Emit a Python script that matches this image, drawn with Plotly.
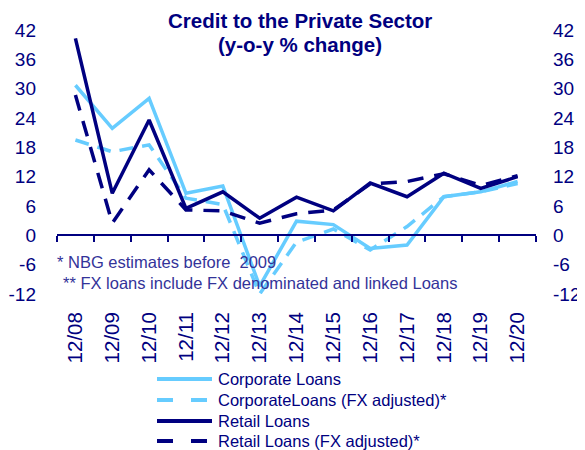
import plotly.graph_objects as go

# ---------------- data ----------------
categories = ["12/08", "12/09", "12/10", "12/11", "12/12", "12/13", "12/14",
              "12/15", "12/16", "12/17", "12/18", "12/19", "12/20"]
corporate = [30.7, 21.9, 28.0, 8.6, 10.1, -10.4, 2.9, 2.2, -2.7, -2.0, 7.9, 8.9, 11.0]
corporate_fx = [19.5, 17.1, 18.5, 7.6, 6.3, -12.0, -1.4, 1.3, -3.0, 1.8, 7.9, 8.9, 10.6]
retail = [40.3, 8.6, 23.6, 5.5, 8.9, 3.5, 7.8, 5.0, 10.7, 7.9, 12.7, 9.6, 12.0]
retail_fx = [28.7, 2.5, 13.4, 5.2, 5.0, 2.5, 4.4, 5.2, 10.5, 11.0, 12.6, 10.2, 12.2]
y_ticks = [-12, -6, 0, 6, 12, 18, 24, 30, 36, 42]
y_tick_labels = ["-12", "-6", "0", "6", "12", "18", "24", "30", "36", "42"]
series_names = ["Corporate Loans", "CorporateLoans (FX adjusted)*",
                "Retail Loans", "Retail Loans (FX adjusted)*"]
notes = ["* NBG estimates before  2009",
         "** FX loans include FX denominated and linked Loans"]
title_lines = ["Credit to the Private Sector", "(y-o-y % change)"]

# ---------------- style ----------------
LIGHT = "#66CCFF"
NAVY = "#000080"
NOTE = "#333399"
FONT = "Liberation Sans, Arial, sans-serif"
OFF = 8                      # page body margin offset
W, H = 585 - OFF, 450 - OFF  # figure size so it fits the window
# target plot area in window pixels: x 57..536, y 30..294
ML, MT = 57 - OFF, 30 - OFF
PW, PH = 479, 264
MR, MB = W - ML - PW, H - MT - PH


def px(x):
    """window pixel x -> paper fraction"""
    return (x - OFF - ML) / PW


def py(y):
    """window pixel y -> paper fraction"""
    return (MT + PH - (y - OFF)) / PH


styles = [
    dict(color=LIGHT, width=3.5, dash="solid"),
    dict(color=LIGHT, width=3.5, dash="14px,9px"),
    dict(color=NAVY, width=3.5, dash="solid"),
    dict(color=NAVY, width=3.5, dash="16px,11px"),
]
series = [corporate, corporate_fx, retail, retail_fx]

fig = go.Figure()
for name, vals, st in zip(series_names, series, styles):
    fig.add_trace(go.Scatter(x=categories, y=vals, mode="lines", name=name,
                             line=st, showlegend=False, hoverinfo="x+y+name"))

yr = [y_ticks[0], y_ticks[-1]]
n = len(categories)
bounds = [i - 0.5 for i in range(n + 1)]

fig.update_layout(
    width=W, height=H, autosize=False,
    margin=dict(l=ML, r=MR, t=MT, b=MB, autoexpand=False),
    paper_bgcolor="white", plot_bgcolor="white",
    font=dict(family=FONT, color=NAVY),
    showlegend=False,
    xaxis=dict(type="category", showline=False, showgrid=False, ticks="",
               tickangle=-90, tickfont=dict(size=20.5, color=NAVY),
               ticklabelstandoff=13, range=[-0.5, n - 0.5], automargin=False),
    xaxis2=dict(overlaying="x", anchor="free",
                position=(0 - yr[0]) / (yr[1] - yr[0]),
                range=[-0.5, n - 0.5], tickvals=bounds, showticklabels=False,
                ticks="outside", ticklen=6, tickwidth=1.5, tickcolor=NAVY,
                showline=True, linecolor=NAVY, linewidth=1.5,
                showgrid=False, zeroline=False, automargin=False),
    yaxis=dict(range=yr, tickvals=y_ticks, ticktext=y_tick_labels,
               showgrid=False, zeroline=False,
               showline=False, ticks="", tickfont=dict(size=19, color=NAVY),
               ticklabelstandoff=20, automargin=False),
    yaxis2=dict(overlaying="y", side="right", range=yr, tickvals=y_ticks,
                ticktext=y_tick_labels,
                showgrid=False, zeroline=False, showline=False, ticks="",
                tickfont=dict(size=19, color=NAVY), ticklabelstandoff=16,
                automargin=False),
)

# invisible helper traces so the overlay axes are rendered
fig.add_trace(go.Scatter(x=[None], y=[None], xaxis="x2", yaxis="y",
                         showlegend=False, hoverinfo="skip"))
fig.add_trace(go.Scatter(x=[None], y=[None], xaxis="x", yaxis="y2",
                         showlegend=False, hoverinfo="skip"))

# title (two centred bold lines)
for line, yc in zip(title_lines, [20, 45]):
    fig.add_annotation(text="<b>" + line + "</b>", xref="paper", yref="paper",
                       x=px(300), y=py(yc), xanchor="center", yanchor="middle",
                       showarrow=False,
                       font=dict(size=20.5, color=NAVY, family=FONT))

# notes
fig.add_annotation(text=notes[0], xref="paper", yref="paper", x=px(55), y=py(262),
                   xanchor="left", yanchor="middle", showarrow=False,
                   font=dict(size=16.5, color=NOTE, family=FONT))
fig.add_annotation(text=notes[1], xref="paper", yref="paper", x=px(61), y=py(283),
                   xanchor="left", yanchor="middle", showarrow=False,
                   font=dict(size=16.5, color=NOTE, family=FONT))

# custom legend (below chart)
rows = [379, 400, 421, 441]
for name, st, r in zip(series_names, styles, rows):
    dash = "solid" if st["dash"] == "solid" else "16px,18px"
    fig.add_shape(type="line", xref="paper", yref="paper",
                  x0=px(157), x1=px(212), y0=py(r), y1=py(r),
                  line=dict(color=st["color"], width=4, dash=dash))
    fig.add_annotation(text=name, xref="paper", yref="paper", x=px(216), y=py(r),
                       xanchor="left", yanchor="middle", showarrow=False,
                       font=dict(size=16.5, color=NAVY, family=FONT))

fig.write_html("out.html")
